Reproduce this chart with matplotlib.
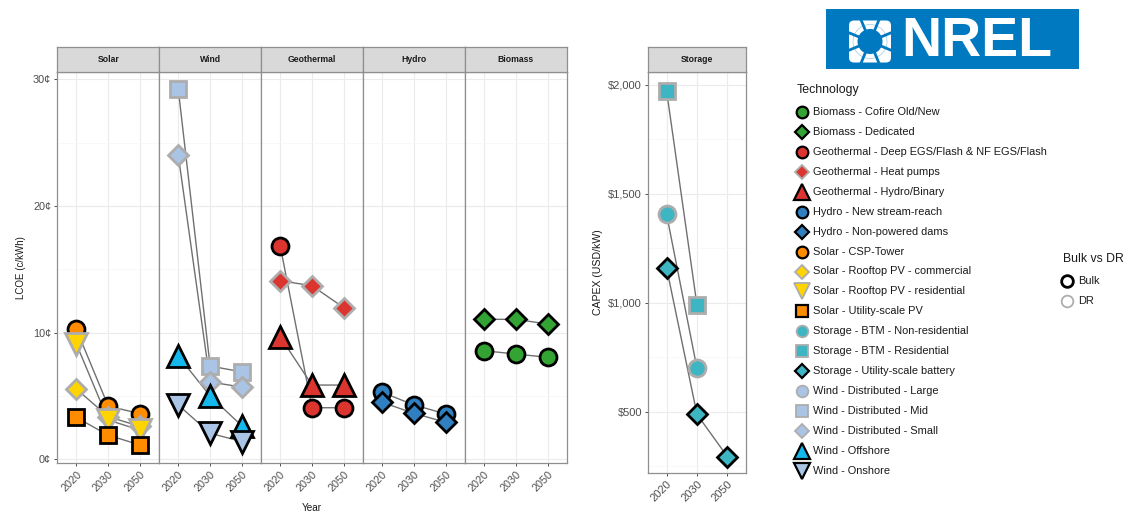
import numpy as np
import matplotlib
matplotlib.use('Agg')
import matplotlib.pyplot as plt
from matplotlib.ticker import FixedLocator, FuncFormatter
from matplotlib.patches import Rectangle, FancyBboxPatch, Circle

plt.rcParams['font.family'] = ['Liberation Sans', 'DejaVu Sans']

nan = np.nan
years = ['2020', '2030', '2050']
lcoe_panels = ['Solar', 'Wind', 'Geothermal', 'Hydro', 'Biomass']
storage_panel = 'Storage'

# ---- data (LCOE in cents/kWh; Storage CAPEX in USD/kW) ----
biomass_cofire = [8.57, 8.31, 8.05]
biomass_dedicated = [11.05, 11.05, 10.68]
geo_deep_egs = [16.86, 4.07, 4.07]
geo_heat_pumps = [14.1, 13.7, 11.97]
geo_hydro_binary = [9.68, 5.86, 5.86]
hydro_new_stream = [5.29, 4.29, 3.58]
hydro_npd = [4.5, 3.63, 2.92]
solar_csp = [10.26, 4.2, 3.6]
solar_rooftop_comm = [5.55, 3.36, 2.6]
solar_rooftop_res = [9.1, 3.1, 2.3]
solar_utility_pv = [3.3, 1.9, 1.13]
storage_btm_nonres = [1407, 699, nan]
storage_btm_res = [1974, 989, nan]
storage_utility = [1161, 488, 294]
wind_dist_large = [nan, nan, nan]
wind_dist_mid = [29.2, 7.36, 6.9]
wind_dist_small = [24.0, 6.1, 5.7]
wind_offshore = [8.15, 5.0, 2.63]
wind_onshore = [4.29, 2.05, 1.4]

tech_labels = [
    'Biomass - Cofire Old/New', 'Biomass - Dedicated',
    'Geothermal - Deep EGS/Flash & NF EGS/Flash', 'Geothermal - Heat pumps',
    'Geothermal - Hydro/Binary', 'Hydro - New stream-reach',
    'Hydro - Non-powered dams', 'Solar - CSP-Tower',
    'Solar - Rooftop PV - commercial', 'Solar - Rooftop PV - residential',
    'Solar - Utility-scale PV', 'Storage - BTM - Non-residential',
    'Storage - BTM - Residential', 'Storage - Utility-scale battery',
    'Wind - Distributed - Large', 'Wind - Distributed - Mid',
    'Wind - Distributed - Small', 'Wind - Offshore', 'Wind - Onshore']
tech_values = [
    biomass_cofire, biomass_dedicated, geo_deep_egs, geo_heat_pumps,
    geo_hydro_binary, hydro_new_stream, hydro_npd, solar_csp,
    solar_rooftop_comm, solar_rooftop_res, solar_utility_pv,
    storage_btm_nonres, storage_btm_res, storage_utility,
    wind_dist_large, wind_dist_mid, wind_dist_small, wind_offshore, wind_onshore]
tech_panel = ['Biomass', 'Biomass', 'Geothermal', 'Geothermal', 'Geothermal',
              'Hydro', 'Hydro', 'Solar', 'Solar', 'Solar', 'Solar',
              'Storage', 'Storage', 'Storage', 'Wind', 'Wind', 'Wind', 'Wind', 'Wind']
tech_class = ['Bulk', 'Bulk', 'Bulk', 'DR', 'Bulk', 'Bulk', 'Bulk', 'Bulk',
              'DR', 'DR', 'Bulk', 'DR', 'DR', 'Bulk', 'DR', 'DR', 'DR', 'Bulk', 'Bulk']

# ---- styles ----
GREEN, RED, BLUE = '#33A333', '#DC3530', '#2F7FC1'
ORANGE, YELLOW, TEAL = '#FF8C00', '#FFD400', '#3DB5C2'
LBLUE, CYAN = '#AAC4E6', '#14B8EC'
tech_marker = ['o', 'D', 'o', 'D', '^', 'o', 'D', 'o', 'D', 'v', 's',
               'o', 's', 'D', 'o', 's', 'D', '^', 'v']
tech_color = [GREEN, GREEN, RED, RED, RED, BLUE, BLUE, ORANGE, YELLOW, YELLOW,
              ORANGE, TEAL, TEAL, TEAL, LBLUE, LBLUE, LBLUE, CYAN, LBLUE]
edge_color = {'Bulk': '#000000', 'DR': '#ADADAD'}
msize = {'o': 12.2, 's': 11.0, 'D': 10.4, '^': 16.0, 'v': 16.0}
lsize = {'o': 8.4, 's': 8.0, 'D': 7.6, '^': 11.5, 'v': 11.5}

W, H = 1130, 514
fig = plt.figure(figsize=(W / 100, H / 100), dpi=100)


def fx(px):
    return px / W


def fy(py):
    return 1 - py / H


def add_px_axes(l, t, r, b, **kw):
    return fig.add_axes([fx(l), fy(b), fx(r) - fx(l), fy(t) - fy(b)], **kw)


SPINE = '#8F8F8F'
GRID = '#EBEBEB'
GRIDMIN = '#F5F5F5'
TICKC = '#4D4D4D'


def style_panel(ax, show_y, minor_y, tick_fs):
    ax.set_facecolor('white')
    for s in ax.spines.values():
        s.set_color(SPINE)
        s.set_linewidth(0.9)
    ax.set_axisbelow(True)
    ax.set_xlim(-0.6, 2.6)
    ax.grid(True, which='major', color=GRID, lw=0.8)
    ax.yaxis.set_minor_locator(FixedLocator(minor_y))
    ax.grid(True, which='minor', axis='y', color=GRIDMIN, lw=0.5)
    ax.tick_params(axis='x', length=2.5, width=0.6, color='#333333', pad=2,
                   labelsize=tick_fs, labelcolor=TICKC)
    ax.tick_params(axis='y', which='major', length=2.5 if show_y else 0,
                   width=0.6, color='#333333', pad=2,
                   labelsize=tick_fs, labelcolor=TICKC, labelleft=show_y)
    ax.tick_params(axis='y', which='minor', length=0)
    for lab in ax.get_xticklabels():
        lab.set_rotation(45)
        lab.set_ha('right')
        lab.set_va('top')
        lab.set_rotation_mode('anchor')


def add_strip(l, r, text):
    sax = add_px_axes(l, 47.3, r, 71.7)
    sax.set_facecolor('#D9D9D9')
    for s in sax.spines.values():
        s.set_color(SPINE)
        s.set_linewidth(0.9)
    sax.set_xticks([])
    sax.set_yticks([])
    sax.text(0.5, 0.5, text, ha='center', va='center', fontsize=6.2,
             fontweight='bold', color='#1A1A1A', transform=sax.transAxes)


def draw_series(ax, idx_list):
    for i in idx_list:
        ax.plot(years, tech_values[i], color='#707070', lw=1.0, zorder=2)
    for i in idx_list:
        m = tech_marker[i]
        ax.plot(years, tech_values[i], linestyle='none', marker=m,
                ms=msize[m], mfc=tech_color[i], mec=edge_color[tech_class[i]],
                mew=2.0, zorder=3, clip_on=False)


# ---- LCOE panels ----
L0, R0, T0, B0 = 57.3, 566.7, 71.7, 462.7
pw = (R0 - L0) / len(lcoe_panels)
for k, pname in enumerate(lcoe_panels):
    l = L0 + k * pw
    ax = add_px_axes(l, T0, l + pw, B0)
    idx = [i for i, p in enumerate(tech_panel) if p == pname]
    draw_series(ax, idx)
    ax.set_ylim(-0.27, 30.6)
    ax.set_yticks([0, 10, 20, 30])
    ax.yaxis.set_major_formatter(FuncFormatter(lambda v, p: f'{v:.0f}\u00a2'))
    ax.set_xticks(range(len(years)))
    ax.set_xticklabels(years)
    style_panel(ax, k == 0, [5, 15, 25], 7.8)
    add_strip(l, l + pw, pname)
    if k == 0:
        ax.set_ylabel('LCOE (c/kWh)', fontsize=7, labelpad=5, color='#1A1A1A')

fig.text(fx((L0 + R0) / 2), fy(508), 'Year', ha='center', va='center',
         fontsize=7.2, color='#1A1A1A')

# ---- Storage panel ----
SL, SR = 648.3, 745.7
sax = add_px_axes(SL, T0, SR, 473.0)
sidx = [i for i, p in enumerate(tech_panel) if p == storage_panel]
draw_series(sax, sidx)
sax.set_ylim(219, 2061)
sax.set_yticks([500, 1000, 1500, 2000])
sax.yaxis.set_major_formatter(FuncFormatter(lambda v, p: f'${v:,.0f}'))
sax.set_xticks(range(len(years)))
sax.set_xticklabels(years)
style_panel(sax, True, [250, 750, 1250, 1750], 8.0)
add_strip(SL, SR, storage_panel)
sax.set_ylabel('CAPEX (USD/kW)', fontsize=7.6, labelpad=4, color='#1A1A1A')

# ---- overlay for legends and logo ----
ov = fig.add_axes([0, 0, 1, 1], zorder=-1)
ov.set_xlim(0, W)
ov.set_ylim(H, 0)
ov.axis('off')

ov.text(797, 90, 'Technology', ha='left', va='center', fontsize=8.9, color='#1A1A1A')
for i, lab in enumerate(tech_labels):
    yy = 112.3 + i * 19.9
    m = tech_marker[i]
    ov.plot([802], [yy], marker=m, ms=lsize[m], mfc=tech_color[i],
            mec=edge_color[tech_class[i]], mew=1.6 if tech_class[i] == 'Bulk' else 1.3,
            linestyle='none')
    ov.text(812.7, yy, lab, ha='left', va='center', fontsize=7.9, color='#1A1A1A')

ov.text(1062.7, 259.3, 'Bulk vs DR', ha='left', va='center', fontsize=8.8, color='#1A1A1A')
for j, (cls, yy) in enumerate([('Bulk', 281), ('DR', 301)]):
    ov.plot([1067.3], [yy], marker='o', ms=8.4, mfc='white', mec=edge_color[cls],
            mew=2.0 if cls == 'Bulk' else 1.3, linestyle='none')
    ov.text(1078.3, yy, cls, ha='left', va='center', fontsize=7.9, color='#1A1A1A')

# NREL logo
LOGO = '#0079C1'
ov.add_patch(Rectangle((826, 9), 253, 60, facecolor=LOGO, edgecolor='none'))
cx, cy = 870, 41.5
ov.add_patch(FancyBboxPatch((cx - 21, cy - 21), 42, 42,
                            boxstyle='round,pad=0,rounding_size=5',
                            facecolor='white', edgecolor='none'))
ov.add_patch(Circle((cx, cy), 12.5, facecolor=LOGO, edgecolor='none'))
for a in np.deg2rad(22.5 + 45 * np.arange(8)):
    ov.plot([cx + 8 * np.cos(a), cx + 24 * np.cos(a)],
            [cy + 8 * np.sin(a), cy + 24 * np.sin(a)], color=LOGO, lw=2.0,
            solid_capstyle='butt')
ov.add_patch(Circle((cx, cy), 17, facecolor='none', edgecolor=LOGO, lw=0.5, alpha=0.4))
ov.text(977, 42.5, 'NREL', ha='center', va='center', fontsize=40,
        fontweight='bold', color='white')

fig.savefig('out.png', dpi=100, facecolor='white')
